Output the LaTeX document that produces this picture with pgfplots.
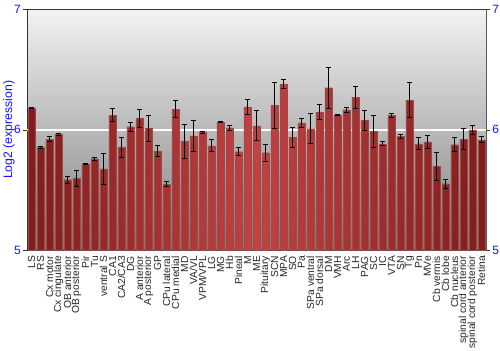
\documentclass[border=0pt]{standalone}
\usepackage{pgfplots}
\pgfplotsset{compat=1.18}
\usepackage{fontspec}
\setmainfont{Liberation Sans}
\setsansfont{Liberation Sans}
\definecolor{tickblue}{RGB}{20,20,255}
\definecolor{bardark}{RGB}{130,28,28}
\definecolor{barlight}{RGB}{195,65,65}
\begin{document}
\begin{tikzpicture}
\begin{axis}[
  name=main,
  scale only axis,
  width=344pt, height=181pt,
  ymin=5, ymax=7,
  xmin=-0.5, xmax=50.5,
  ytick={5,6,7},
  yticklabel pos=left,
  extra y ticks={6},
  extra y tick labels={},
  extra y tick style={grid=major, major grid style={white, line width=1.2pt}, major tick length=0pt},
  tick align=outside,
  major tick length=3pt,
  xtick=data,
  x tick style={draw=none},
  xticklabels={LS,RS,Cx motor,Cx cingulate,OB anterior,OB posterior,Pir,Tu,ventral S,CA1,CA2/CA3,DG,A anterior,A posterior,GP,CPu lateral,CPu medial,MD,VA/VL,VPM/VPL,LG,MG,Hb,Pineal,M,ME,Pituitary,SCN,MPA,SO,Pa,SPa ventral,SPa dorsal,DM,VMH,Arc,LH,PAG,SC,IC,VTA,SN,Tg,Pn,MVe,Cb vermis,Cb lobe,Cb nucleus,spinal cord anterior,spinal cord posterior,Retina},
  x tick label style={rotate=90, anchor=east, font=\fontsize{7.7pt}{7.7pt}\selectfont, text=black!85, inner sep=1pt},
  y tick label style={font=\fontsize{9pt}{9pt}\selectfont, text=tickblue, inner sep=1.5pt},
  /pgf/number format/assume math mode=true,
  ylabel={Log2 (expression)},
  ylabel style={at={(axis description cs:0,0.5)}, anchor=center, yshift=13.5pt, font=\fontsize{9.2pt}{9.2pt}\selectfont, text=tickblue},
  axis line style={draw=black!65},
  y axis line style={draw=black!80},
  ytick style={draw=black!80},
  axis background/.style={shade, top color=black!5, bottom color=black!50},
  clip=false,
]
\addplot[ybar, bar width=0.8, draw=bardark!80, line width=0.2pt,
  left color=bardark, right color=bardark, middle color=barlight,
  error bars/.cd, y dir=both, y explicit,
  error bar style={black, line width=0.6pt},
  error mark options={rotate=90, mark size=1.6pt, black, line width=0.6pt}]
coordinates {
(0,6.180) +- (0,0.005)
(1,5.853) +- (0,0.010)
(2,5.923) +- (0,0.020)
(3,5.964) +- (0,0.008)
(4,5.586) +- (0,0.030)
(5,5.597) +- (0,0.065)
(6,5.718) +- (0,0.006)
(7,5.760) +- (0,0.012)
(8,5.677) +- (0,0.130)
(9,6.122) +- (0,0.055)
(10,5.853) +- (0,0.080)
(11,6.025) +- (0,0.035)
(12,6.094) +- (0,0.077)
(13,6.011) +- (0,0.110)
(14,5.823) +- (0,0.045)
(15,5.550) +- (0,0.020)
(16,6.171) +- (0,0.070)
(17,5.903) +- (0,0.140)
(18,5.950) +- (0,0.130)
(19,5.980) +- (0,0.010)
(20,5.867) +- (0,0.050)
(21,6.066) +- (0,0.006)
(22,6.017) +- (0,0.020)
(23,5.818) +- (0,0.033)
(24,6.190) +- (0,0.060)
(25,6.033) +- (0,0.125)
(26,5.810) +- (0,0.070)
(27,6.204) +- (0,0.190)
(28,6.381) +- (0,0.040)
(29,5.937) +- (0,0.085)
(30,6.058) +- (0,0.037)
(31,6.008) +- (0,0.125)
(32,6.146) +- (0,0.060)
(33,6.348) +- (0,0.170)
(34,6.122) +- (0,0.005)
(35,6.166) +- (0,0.020)
(36,6.271) +- (0,0.090)
(37,6.077) +- (0,0.080)
(38,5.986) +- (0,0.130)
(39,5.884) +- (0,0.017)
(40,6.122) +- (0,0.017)
(41,5.945) +- (0,0.014)
(42,6.246) +- (0,0.146)
(43,5.884) +- (0,0.050)
(44,5.900) +- (0,0.055)
(45,5.696) +- (0,0.117)
(46,5.553) +- (0,0.036)
(47,5.876) +- (0,0.057)
(48,5.923) +- (0,0.086)
(49,6.000) +- (0,0.040)
(50,5.917) +- (0,0.025)
};
\coordinate (sw) at (rel axis cs:0,0);
\coordinate (ne) at (rel axis cs:1,1);
\end{axis}
\begin{axis}[
  scale only axis,
  width=344pt, height=181pt,
  ymin=5, ymax=7,
  xmin=-0.5, xmax=50.5,
  axis x line=none,
  axis y line*=right,
  ytick={5,6,7},
  tick align=outside,
  major tick length=3pt,
  y axis line style={draw=black!65},
  ytick style={draw=black!80},
  y tick label style={font=\fontsize{9pt}{9pt}\selectfont, text=tickblue, inner sep=1.5pt},
  /pgf/number format/assume math mode=true,
]
\addplot[draw=none] coordinates {(0,5)};
\end{axis}
\pgfresetboundingbox
\useasboundingbox ([xshift=-20.25pt,yshift=-75pt]sw) rectangle ([xshift=10.5pt,yshift=6.75pt]ne);
\end{tikzpicture}
\end{document}
